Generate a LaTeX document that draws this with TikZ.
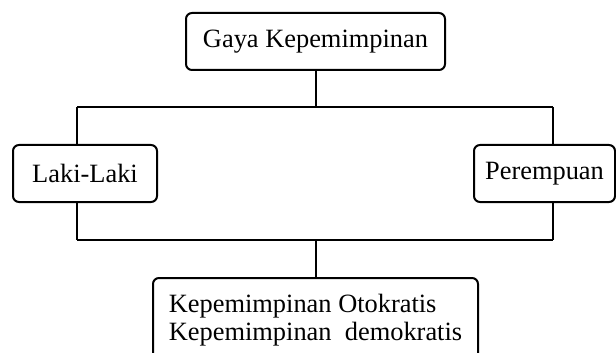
\documentclass[tikz,border=0pt]{standalone}
\usepackage{fontspec}
\setmainfont{Liberation Serif}
\usepackage{tikz}
\usetikzlibrary{positioning}
\tikzstyle{box} = [rectangle, rounded corners=3pt, minimum height=28.5pt, text centered, draw=black, line width=1pt, font=\fontsize{13.2}{14}\selectfont]
\tikzstyle{line} = [line width=1pt]

\begin{document}
\begin{tikzpicture}[x=0.5pt, y=-0.5pt]
\useasboundingbox (0,0) rectangle (616,353);

\node (gaya) [box, minimum width=129.5pt] at (315.5,41.5) {Gaya Kepemimpinan};
\node (laki) [box, minimum width=72pt] at (85,173.5) {Laki-Laki};
\node (perempuan) [box, minimum width=70.5pt] at (544.5,173.5) {Perempuan};
\node (jenis) [box, anchor=north, align=left, minimum width=162.5pt, inner ysep=8.25pt] at (315.5,277) {Kepemimpinan Otokratis\\Kepemimpinan\ \ demokratis};

\coordinate (ltop) at (77,107);
\coordinate (rtop) at (553,107);
\coordinate (lbot) at (77,240);
\coordinate (rbot) at (553,240);

\draw [line] (gaya) -- (gaya |- ltop);
\draw [line] (ltop) -- (rtop);
\draw [line] (ltop) -- (ltop |- laki.north);
\draw [line] (rtop) -- (rtop |- perempuan.north);
\draw [line] (lbot |- laki.south) -- (lbot);
\draw [line] (rbot |- perempuan.south) -- (rbot);
\draw [line] (lbot) -- (rbot);
\draw [line] (jenis |- lbot) -- (jenis);

\end{tikzpicture}
\end{document}
